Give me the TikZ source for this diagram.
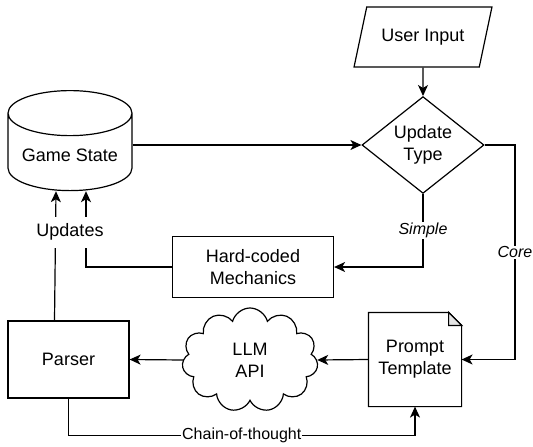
\documentclass[tikz,border=0pt]{standalone}
\usepackage{fontspec}
\setmainfont{Liberation Sans}
\usetikzlibrary{shapes.geometric,shapes.symbols,arrows.meta}

\begin{document}
\begin{tikzpicture}[x=1pt,y=-1pt,line width=1.2pt,>={Stealth[length=11pt,width=10pt,inset=3pt]},
  box/.style={draw,align=center,font=\fontsize{18}{22}\selectfont,inner sep=2pt},
  lbl/.style={fill=white,font=\fontsize{16}{19}\selectfont,inner sep=1pt}]
  \useasboundingbox (0,0) rectangle (533,447);

  \node[box,trapezium,trapezium left angle=64,trapezium right angle=116,trapezium stretches=true,
        minimum width=138pt,minimum height=60pt] (ui) at (423,37) {User Input};
  \node[box,diamond,minimum width=122pt,minimum height=91pt,inner sep=0pt] (ut) at (423,145) {Update\\Type};
  \node[box,cylinder,shape border rotate=90,aspect=0.45,minimum width=124pt,minimum height=100pt] (gs) at (70,155) {Game State};
  \node[box,minimum width=161pt,minimum height=61pt] (hc) at (253,267) {Hard-coded\\Mechanics};
  \node[box,minimum width=121pt,minimum height=77pt] (pa) at (68.5,359.5) {Parser};
  \node[box,cloud,cloud puffs=11,aspect=1.3,minimum width=136pt,minimum height=104pt,inner sep=0pt] (llm) at (250,360) {LLM\\API};
  \node[box,draw=none,minimum width=92pt,minimum height=93pt] (pt) at (415,359.5) {Prompt\\Template};
  % folded page
  \draw (pt.south west) -- (pt.north west) -- ([xshift=-13pt]pt.north east) -- ([yshift=-13pt]pt.north east) -- (pt.south east) -- cycle;
  \draw[fill=gray!20] ([xshift=-13pt]pt.north east) -- ([xshift=-13pt,yshift=-13pt]pt.north east) -- ([yshift=-13pt]pt.north east) -- cycle;
  \coordinate (ce) at (515,145);

  \draw[->] (ui) -- (ut);
  \draw[->] (gs.east |- ut.west) -- (ut.west);
  \draw[->] (ut.south) |- node[lbl,pos=0.25,font=\fontsize{16}{19}\selectfont\itshape]{Simple} (hc.east);
  \draw[->] (ut.east) -- (ce) |- node[lbl,pos=0.25,font=\fontsize{16}{19}\selectfont\itshape]{Core} (pt.east);
  \draw[->] (pt.west) -- (llm.east);
  \draw[->] (llm.west) -- (pa.east);
  \draw[->] (pa.south) -- ++(0,37) -| node[lbl,pos=0.25]{Chain-of-thought} (pt.south);
  \draw[->] ([xshift=-14pt]pa.north) -- ([xshift=-14pt]gs.south);
  \draw[->] (hc.west) -| ([xshift=16pt]gs.south);
  \node[lbl,font=\fontsize{18}{22}\selectfont,minimum height=31pt] (up) at (70,232) {Updates};
\end{tikzpicture}
\end{document}
